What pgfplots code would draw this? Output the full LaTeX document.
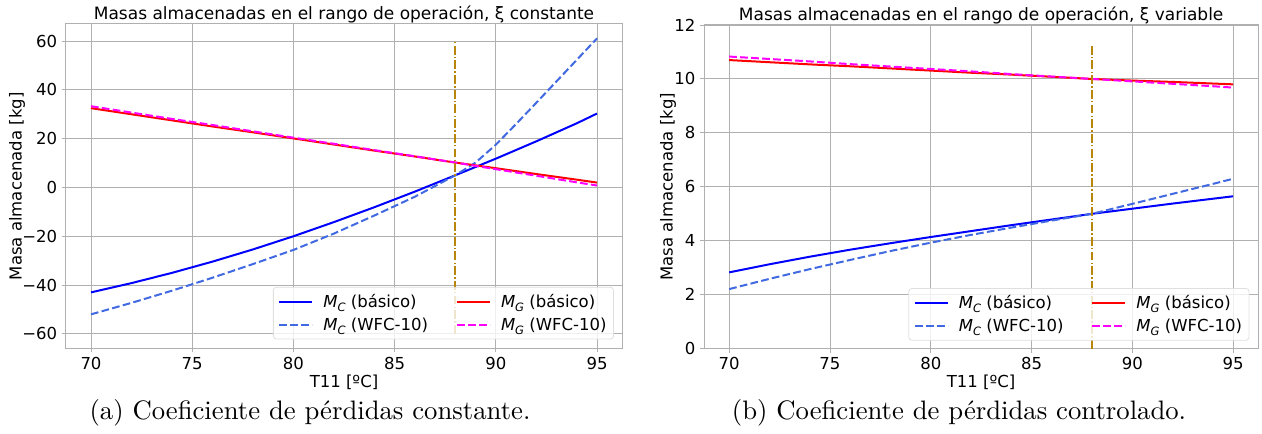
\documentclass[border=0pt]{standalone}
\usepackage{fontspec}
\usepackage{graphicx}
\usepackage{pgfplots}
\pgfplotsset{compat=1.18}
\newfontfamily\dejavu{DejaVu Sans}
\definecolor{royalblue}{HTML}{4169E1}
\definecolor{dgold}{HTML}{B8860B}
\definecolor{gridgray}{HTML}{B0B0B0}
\definecolor{mblue}{HTML}{0000FF}
\definecolor{mred}{HTML}{FF0000}
\definecolor{mmag}{HTML}{FF00FF}
\newcommand{\fs}{\dejavu\fontsize{16.5}{19}\selectfont}
\newcommand{\Msub}[1]{\textit{M}\raisebox{-0.22em}{\fontsize{11.5}{12}\selectfont\textit{#1}}}

\pgfplotsset{
  panel/.style={
    scale only axis,
    xmin=68.75, xmax=96.25,
    xtick={70,75,80,85,90,95},
    xticklabels={70,75,80,85,90,95},
    grid=major,
    grid style={gridgray, line width=0.9pt},
    axis line style={gridgray, line width=1pt},
    tick style={gridgray, line width=0.9pt},
    tick align=outside,
    tick pos=left,
    major tick length=4pt,
    ticklabel style={font=\fs},
    xticklabel style={anchor=north, yshift=-1pt},
    yticklabel style={anchor=east, xshift=-1pt},
    every axis title/.style={at={(axis description cs:0.5,1)}, anchor=base, yshift=4.5pt, font=\dejavu\fontsize{17}{19}\selectfont},
    xlabel={T11 [ºC]},
    ylabel={Masa almacenada [kg]},
    every axis x label/.style={at={(axis description cs:0.5,0)}, anchor=center, yshift=-33.5pt, font=\fs},
    legend columns=2,
    legend cell align=left,
    legend style={font=\fs, draw=gray!25, line width=0.8pt, rounded corners=3pt, fill=white, fill opacity=0.8, text opacity=1, anchor=south east, /tikz/every even column/.append style={column sep=26pt}, /tikz/every odd column/.append style={column sep=8pt}, row sep=5pt, inner xsep=5pt, inner ysep=5pt},
    legend image code/.code={\draw[#1] (0pt,0pt) -- (33pt,0pt);},
  },
  bas/.style={line width=2pt},
  wfc/.style={line width=2pt, dash pattern=on 7.7pt off 3.3pt},
  vl/.style={dgold, line width=1.8pt, dash pattern=on 8.9pt off 2.2pt on 1.4pt off 2.2pt},
}

\begin{document}
\begin{tikzpicture}
\useasboundingbox (0pt,0pt) rectangle (1262pt,434pt);

% ---------------- left panel ----------------
\begin{axis}[panel,
  at={(65.7pt,85.5pt)}, anchor=south west,
  width=556.6pt, height=324.5pt,
  ymin=-66, ymax=67,
  ytick={-60,-40,-20,0,20,40,60},
  yticklabels={−60,−40,−20,0,20,40,60},
  every axis y label/.style={at={(axis description cs:-0.0875,0.5)}, rotate=90, anchor=center, font=\fs},
  title={Masas almacenadas en el rango de operación, ξ constante},
  legend style={at={(0.985,0.028)}},
]
\addlegendimage{mblue, bas}
\addlegendentry{\Msub{C} (básico)}
\addlegendimage{mred, bas}
\addlegendentry{\Msub{G} (básico)}
\addlegendimage{royalblue, wfc}
\addlegendentry{\Msub{C} (WFC-10)}
\addlegendimage{mmag, wfc}
\addlegendentry{\Msub{G} (WFC-10)}

\addplot[mblue, bas, forget plot] coordinates {
(70,-43.0) (72,-39.2) (74,-35.0) (76,-30.4) (78,-25.4) (80,-20.0) (82,-14.2)
(84,-8.1) (86,-1.7) (88,5.0) (90,11.8) (92,18.9) (94,26.3) (95,30.3)};
\addplot[royalblue, wfc, forget plot] coordinates {
(70,-52.0) (72,-47.3) (74,-42.3) (76,-37.0) (78,-31.4) (80,-25.6) (82,-18.9)
(84,-11.5) (86,-3.8) (88,5.0) (89,10.2) (90,17.5) (91,26.0) (92,34.7) (93,43.5) (94,52.3) (95,61.1)};
\addplot[mred, bas, forget plot] coordinates {
(70,32.5) (72,30.0) (74,27.5) (76,25.0) (78,22.6) (80,20.1) (82,17.6)
(84,15.1) (86,12.7) (88,10.2) (90,7.9) (92,5.5) (94,3.2) (95,2.0)};
\addplot[mmag, wfc, forget plot] coordinates {
(70,33.3) (72,30.7) (74,28.1) (76,25.6) (78,23.0) (80,20.4) (82,17.9)
(84,15.3) (86,12.8) (88,10.2) (90,7.5) (92,4.8) (94,2.1) (95,0.8)};
\addplot[vl, forget plot] coordinates {(88,-60) (88,60)};
\end{axis}

% ---------------- right panel ----------------
\begin{axis}[panel,
  at={(704pt,85.3pt)}, anchor=south west,
  width=554.3pt, height=323.7pt,
  ymin=0, ymax=12,
  ytick={0,2,4,6,8,10,12},
  yticklabels={0,2,4,6,8,10,12},
  every axis y label/.style={at={(axis description cs:-0.065,0.5)}, rotate=90, anchor=center, font=\fs},
  title={Masas almacenadas en el rango de operación, ξ variable},
  legend style={at={(0.984,0.025)}},
]
\addlegendimage{mblue, bas}
\addlegendentry{\Msub{C} (básico)}
\addlegendimage{mred, bas}
\addlegendentry{\Msub{G} (básico)}
\addlegendimage{royalblue, wfc}
\addlegendentry{\Msub{C} (WFC-10)}
\addlegendimage{mmag, wfc}
\addlegendentry{\Msub{G} (WFC-10)}

\addplot[mblue, bas, forget plot] coordinates {
(70,2.83) (72,3.13) (74,3.41) (76,3.67) (78,3.91) (80,4.14) (82,4.36)
(84,4.58) (86,4.79) (88,5.00) (90,5.19) (92,5.38) (94,5.56) (95,5.65)};
\addplot[royalblue, wfc, forget plot] coordinates {
(70,2.21) (72,2.59) (74,2.95) (76,3.29) (78,3.62) (80,3.93) (82,4.22)
(84,4.49) (86,4.75) (88,5.00) (90,5.37) (92,5.74) (94,6.11) (95,6.30)};
\addplot[mred, bas, forget plot] coordinates {
(70,10.70) (72,10.62) (74,10.54) (76,10.47) (78,10.39) (80,10.31) (82,10.23)
(84,10.16) (86,10.08) (88,10.00) (90,9.94) (92,9.89) (94,9.83) (95,9.80)};
\addplot[mmag, wfc, forget plot] coordinates {
(70,10.83) (72,10.74) (74,10.65) (76,10.55) (78,10.46) (80,10.37) (82,10.28)
(84,10.18) (86,10.09) (88,10.00) (90,9.91) (92,9.82) (94,9.73) (95,9.68)};
\addplot[vl, forget plot] coordinates {(88,0) (88,11.3)};
\end{axis}

% ---------------- captions ----------------
\node[anchor=base, inner sep=0pt] at (310pt,15pt) {\scalebox{2.67}{\fontsize{10}{12}\selectfont (a) Coeficiente de pérdidas constante.}};
\node[anchor=base, inner sep=0pt] at (959pt,15pt) {\scalebox{2.67}{\fontsize{10}{12}\selectfont (b) Coeficiente de pérdidas controlado.}};
\end{tikzpicture}
\end{document}
